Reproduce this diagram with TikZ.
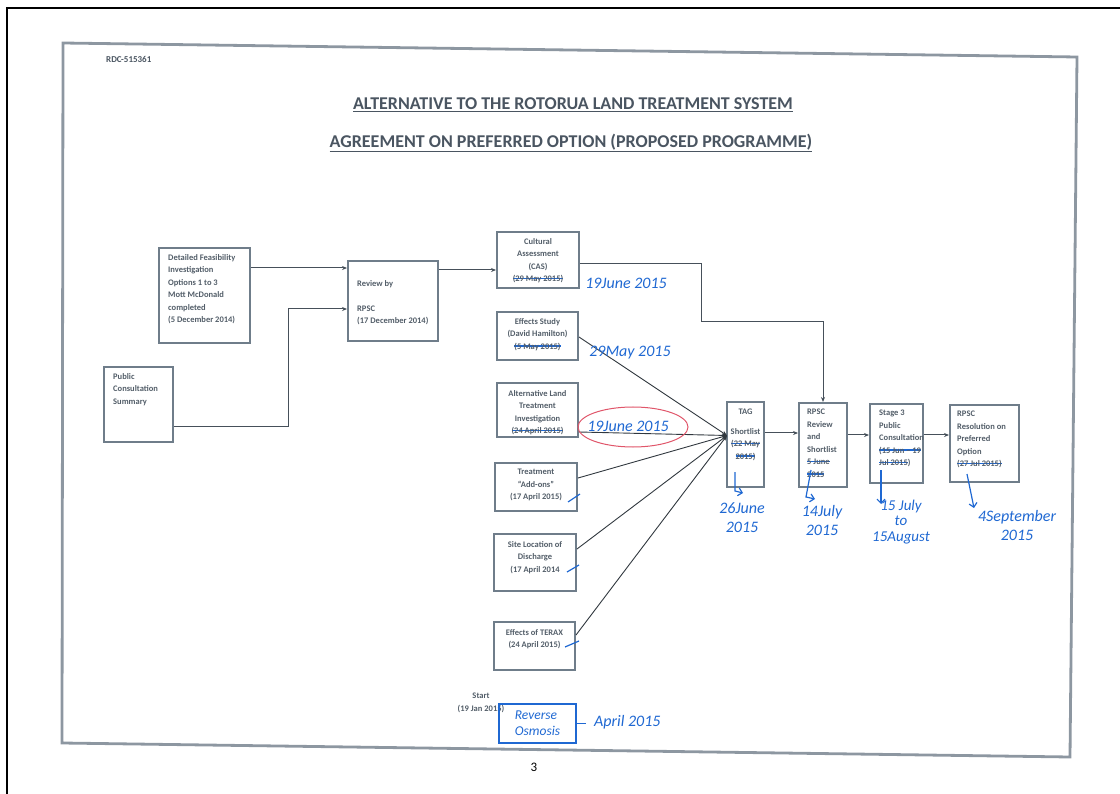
\documentclass[tikz,border=0pt]{standalone}
\usepackage{fontspec}
\setmainfont{Carlito}
\usepackage{tikz}
\usetikzlibrary{arrows.meta,positioning,shapes}
\usepackage{xcolor}

\definecolor{boxc}{HTML}{6F7D8A}
\definecolor{txtc}{HTML}{525D68}
\definecolor{titlec}{HTML}{4A5561}
\definecolor{linec}{HTML}{46505A}
\definecolor{framec}{HTML}{8D97A1}
\definecolor{inkblue}{HTML}{1F68D2}
\definecolor{inkred}{HTML}{E0566A}

\newlength\strklen
\newcommand\strk[1]{\settowidth\strklen{#1}\leavevmode\rlap{\textcolor{inkblue}{\rule[0.3em]{\strklen}{1.3pt}}}#1}

\tikzset{
  pbox/.style={draw=boxc, line width=2pt, inner sep=0pt},
  ptext/.style={text=txtc, font=\fontsize{8.5}{12.5}\selectfont\bfseries, inner sep=0pt},
  conn/.style={draw=linec, line width=1pt, -{Stealth[length=5pt,width=4pt]}},
  fanline/.style={draw=linec!70!black, line width=0.9pt, -{Stealth[length=5pt,width=4pt]}},
  pen/.style={draw=inkblue, line width=1.2pt},
  handtxt/.style={text=inkblue, font=\fontsize{16}{19}\selectfont\itshape, inner sep=0pt}
}

\begin{document}
\begin{tikzpicture}[x=1pt,y=-1pt]
\useasboundingbox (0,0) rectangle (1120,794);

%Page edges
\draw[line width=2pt] (7,794) -- (7,8) -- (1120,8);
\draw[draw=framec, line width=2.8pt] (63,43) -- (1077,57) -- (1070,757) -- (62,743) -- cycle;

%Header
\node[text=titlec, font=\fontsize{9}{10}\selectfont\bfseries, anchor=west, inner sep=0pt] (ref) at (106,59) {RDC-515361};
\node[text=titlec, font=\fontsize{18}{20}\selectfont\bfseries, inner sep=0pt] (title1) at (573,105) {\underline{ALTERNATIVE TO THE ROTORUA LAND TREATMENT SYSTEM}};
\node[text=titlec, font=\fontsize{18}{20}\selectfont\bfseries, inner sep=0pt] (title2) at (571,143) {\underline{AGREEMENT ON PREFERRED OPTION (PROPOSED PROGRAMME)}};

%Detailed feasibility
\node[pbox, minimum width=91, minimum height=95] (feas) at (204.5,295.5) {};
\node[ptext, anchor=north west, align=left] (feas-t) at (168,254) {Detailed Feasibility\\Investigation\\Options 1 to 3\\Mott McDonald\\completed\\(5 December 2014)};

%Public consultation
\node[pbox, minimum width=69, minimum height=75] (pubc) at (138.5,404.5) {};
\node[ptext, anchor=north west, align=left] (pubc-t) at (113,373) {Public\\Consultation\\Summary};

%Review by RPSC
\node[pbox, minimum width=90, minimum height=80] (rev) at (393,301) {};
\node[ptext, anchor=north west, align=left] (rev-t) at (357,280) {Review by\\[12.5pt]RPSC\\(17 December 2014)};

%Cultural assessment
\node[pbox, minimum width=82, minimum height=56] (cas) at (538,260) {};
\node[ptext, anchor=north, align=center] (cas-t) at (538,238) {Cultural\\Assessment\\(CAS)\\\strk{(29 May 2015)}};

%Effects study
\node[pbox, minimum width=81, minimum height=48] (eff) at (537.5,336) {};
\node[ptext, anchor=north, align=center] (eff-t) at (537.5,318) {Effects Study\\(David Hamilton)\\\strk{(5 May 2015)}};

%Alternative land treatment
\node[pbox, minimum width=81, minimum height=54] (alt) at (537.5,410) {};
\node[ptext, anchor=north, align=center] (alt-t) at (537.5,390) {Alternative Land\\Treatment\\Investigation\\\strk{(24 April 2015)}};

%Treatment add-ons
\node[pbox, minimum width=82, minimum height=48] (trt) at (536,487) {};
\node[ptext, anchor=north, align=center] (trt-t) at (536,469) {Treatment\\\textquotedblleft Add-ons\textquotedblright\\(17 April 2015)};

%Site location
\node[pbox, minimum width=82, minimum height=57] (site) at (535,562.5) {};
\node[ptext, anchor=north, align=center] (site-t) at (535,541) {Site Location of\\Discharge\\(17 April 2014};

%Effects of TERAX
\node[pbox, minimum width=81, minimum height=48] (terax) at (534.5,646) {};
\node[ptext, anchor=north, align=center] (terax-t) at (534.5,629) {Effects of TERAX\\(24 April 2015)};

%TAG shortlist
\node[pbox, minimum width=37, minimum height=85] (tag) at (745.5,444.5) {};
\node[ptext, anchor=north, align=center] (tag-t) at (745.5,409) {TAG\\[7pt]Shortlist\\\strk{(22 May}\\\strk{2015)}};

%RPSC review and shortlist
\node[pbox, minimum width=48, minimum height=84] (rrev) at (823,445) {};
\node[ptext, anchor=north west, align=left] (rrev-t) at (807,409) {RPSC\\Review\\and\\Shortlist\\\strk{5 June}\\\strk{2015}};

%Stage 3 consultation
\node[pbox, minimum width=53, minimum height=79] (stg) at (896.5,443.5) {};
\node[ptext, anchor=north west, align=left] (stg-t) at (879,410) {Stage 3\\Public\\Consultation\\\strk{(15 Jun -- 19}\\\strk{Jul 2015})};

%RPSC resolution
\node[pbox, minimum width=69, minimum height=77] (res) at (984.5,443.5) {};
\node[ptext, anchor=north west, align=left] (res-t) at (957,411) {RPSC\\Resolution on\\Preferred\\Option\\\strk{(27 Jul 2015)}};

%Start
\node[ptext, align=center] (start) at (481,703) {Start\\(19 Jan 2015)};

%Connectors
\coordinate (bend) at (288,309);
\coordinate (drop) at (701,322);
\coordinate (fan) at (727,435.5);
\draw[conn] ([yshift=27.5pt]feas.east) -- ([yshift=27.5pt]feas.east -| rev.west);
\draw[conn] ([yshift=-22.5pt]pubc.east) -| (bend) -- (bend -| rev.west);
\draw[conn] ([yshift=31pt]rev.east) -- ([yshift=31pt]rev.east -| cas.west);
\draw[conn] ([yshift=-4pt]cas.east) -| (drop) -| (rrev.north);
\draw[fanline] ([yshift=-1pt]eff.east) -- (fan);
\draw[fanline] ([yshift=-22pt]alt.east) -- (fan);
\draw[fanline] ([yshift=9pt]trt.east) -- (fan);
\draw[fanline] ([yshift=13.5pt]site.east) -- (fan);
\draw[fanline] ([yshift=11pt]terax.east) -- (fan);
\draw[conn] ([yshift=11.5pt]tag.east) -- ([yshift=11.5pt]tag.east -| rrev.west);
\draw[conn] ([yshift=10pt]rrev.east) -- ([yshift=10pt]rrev.east -| stg.west);
\draw[conn] ([yshift=8.5pt]stg.east) -- ([yshift=8.5pt]stg.east -| res.west);

%Handwritten dates
\node[handtxt] (h-cas) at (626,283) {19June 2015};
\node[handtxt] (h-eff) at (630,353) {29May 2015};
\node[handtxt] (h-alt) at (628,426) {19June 2015};
\draw[draw=inkred, line width=1pt] (633,427) ellipse [x radius=55, y radius=20];

%Ticks
\draw[pen] (568,502) -- (580,494);
\draw[pen] (567,572) -- (579,565);
\draw[pen] (565,647) -- (579,641);

%Handwritten revised dates
\node[handtxt, align=center] (h-tag) at (742,518) {26June\\2015};
\node[handtxt, align=center] (h-rrev) at (822,520) {14July\\2015};
\node[handtxt, align=center, font=\fontsize{15}{15.5}\selectfont\itshape] (h-stg) at (901,522) {15 July\\to\\15August};
\node[handtxt, align=center] (h-res) at (1017,525) {4September\\2015};
\draw[pen, -{Straight Barb[length=4pt]}] (735,472) -- (735,491) -- (743,493);
\draw[pen, -{Straight Barb[length=4pt]}] (811,470) -- (806,497) -- (815,499);
\draw[pen, -{Straight Barb[length=4pt]}] (881,470) -- (881,504);
\draw[pen, -{Straight Barb[length=4pt]}] (967,474) -- (974,508);

%Reverse osmosis
\node[draw=inkblue, line width=1.2pt, minimum width=77, minimum height=39, inner sep=0pt] (ro) at (537.5,723.5) {};
\node[handtxt, align=left, font=\fontsize{13.5}{16}\selectfont\itshape] (ro-t) at (ro) {Reverse\\Osmosis};
\coordinate (ro-dash) at (586,723.5);
\draw[pen] (ro.east) -- (ro-dash);
\node[handtxt, anchor=west] (h-apr) at (594,722) {April 2015};

%Page number
\node[font=\fontsize{13}{14}\selectfont, inner sep=0pt] (pnum) at (534,767) {3};
\end{tikzpicture}
\end{document}
